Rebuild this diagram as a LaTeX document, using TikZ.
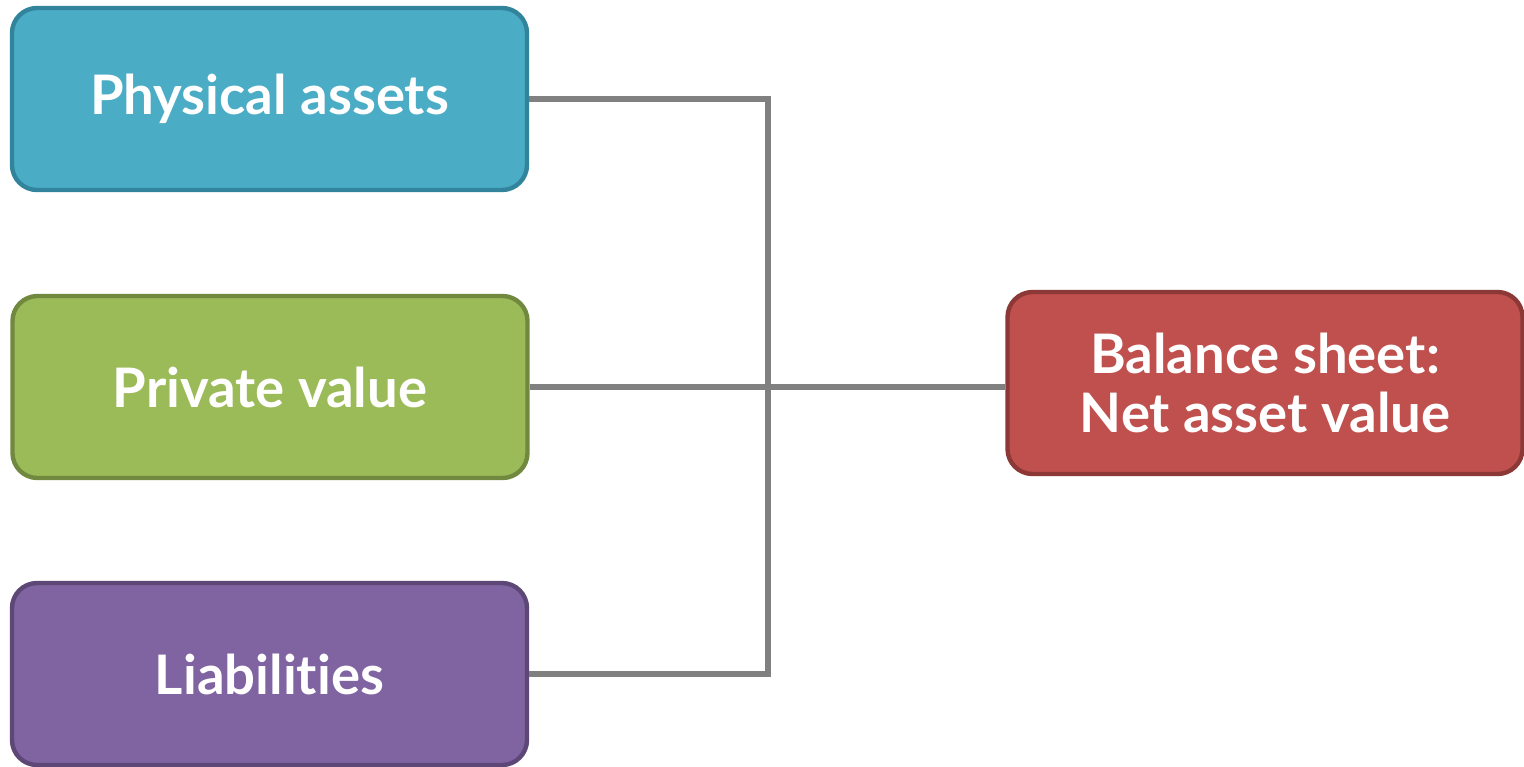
\documentclass[tikz,border=0pt]{standalone}
\usepackage{xcolor}
\usepackage{fontspec}
\setmainfont{Lato}[Ligatures=NoCommon]
\usepackage{tikz}
\usetikzlibrary{positioning}
\definecolor{physfill}{HTML}{4BACC6}
\definecolor{physline}{HTML}{31849B}
\definecolor{privfill}{HTML}{9BBB59}
\definecolor{privline}{HTML}{71893F}
\definecolor{liabfill}{HTML}{8064A2}
\definecolor{liabline}{HTML}{5C4776}
\definecolor{balfill}{HTML}{C0504D}
\definecolor{balline}{HTML}{8C3836}
\definecolor{linkgray}{HTML}{808080}
\tikzstyle{itembox} = [rectangle, rounded corners=0.5cm, line width=2.5pt, minimum width=10.3cm, minimum height=3.64cm, text=white, align=center, font=\fontsize{31}{34}\selectfont\bfseries]
\tikzstyle{link} = [draw, linkgray, line width=3pt]

\begin{document}
\begin{tikzpicture}[auto]

\useasboundingbox (0,0) rectangle (30.48,-15.32);

\node [itembox, fill=physfill, draw=physline] at (5.39,-1.98) (phys) {Physical assets};
\node [itembox, fill=privfill, draw=privline] at (5.40,-7.74) (priv) {Private value};
\node [itembox, fill=liabfill, draw=liabline] at (5.39,-13.48) (liab) {Liabilities};

\node [itembox, fill=balfill, draw=balline] at (25.30,-7.66) (bal) {Balance sheet:\\Net asset value};

%% connectors

\coordinate (bus) at (15.36,0);
\path [link] (phys.east) -- (phys.east -| bus) -- (liab.east -| bus) -- (liab.east);
\path [link] (priv.east) -- (priv.east -| bal.west);

\end{tikzpicture}
\end{document}
